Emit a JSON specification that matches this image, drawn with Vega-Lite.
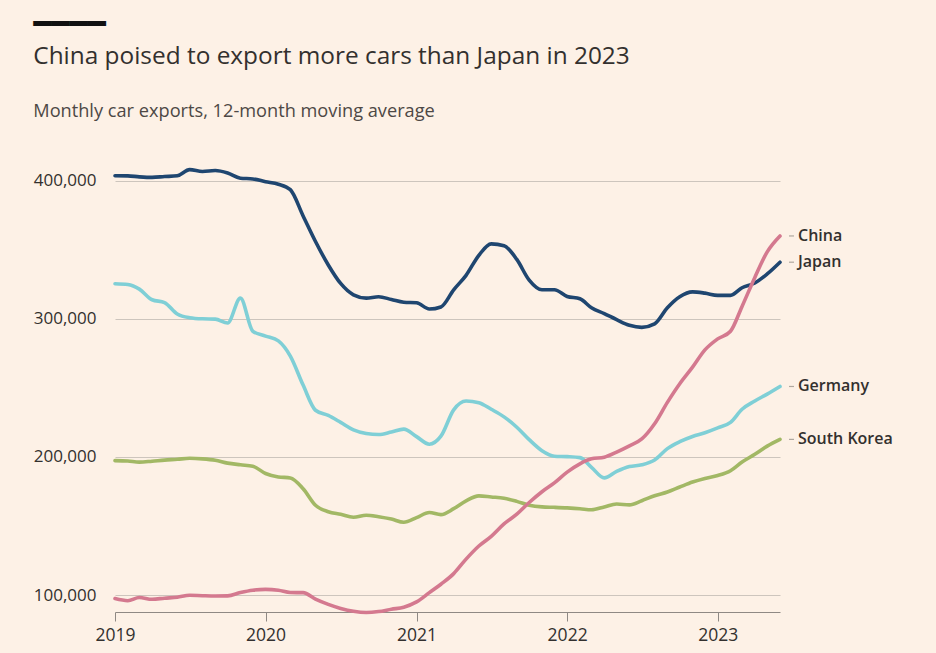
{
  "$schema": "https://vega.github.io/schema/vega-lite/v6.json",
  "background": "#fdf1e6",
  "padding": {"left": 33, "top": 10, "right": 44, "bottom": 10},
  "title": {"text": "━━━━", "anchor": "start", "frame": "bounds", "font": "DejaVu Sans", "fontSize": 30, "fontWeight": "normal", "color": "#111111", "offset": 4},
  "config": {
    "view": {"stroke": null},
    "font": "Open Sans",
    "axis": {"labelFont": "Open Sans", "labelColor": "#33302e", "labelFontSize": 17, "titleFont": "Open Sans"}
  },
  "datasets": {
    "exports": [
      {"country": "Japan", "date": "2019-01-01", "value": 403600},
      {"country": "Japan", "date": "2019-02-01", "value": 403500},
      {"country": "Japan", "date": "2019-03-01", "value": 402800},
      {"country": "Japan", "date": "2019-04-01", "value": 402400},
      {"country": "Japan", "date": "2019-05-01", "value": 403000},
      {"country": "Japan", "date": "2019-06-01", "value": 403600},
      {"country": "Japan", "date": "2019-07-01", "value": 408000},
      {"country": "Japan", "date": "2019-08-01", "value": 406700},
      {"country": "Japan", "date": "2019-09-01", "value": 407400},
      {"country": "Japan", "date": "2019-10-01", "value": 405600},
      {"country": "Japan", "date": "2019-11-01", "value": 401800},
      {"country": "Japan", "date": "2019-12-01", "value": 401300},
      {"country": "Japan", "date": "2020-01-01", "value": 399300},
      {"country": "Japan", "date": "2020-02-01", "value": 397500},
      {"country": "Japan", "date": "2020-03-01", "value": 393500},
      {"country": "Japan", "date": "2020-04-01", "value": 374500},
      {"country": "Japan", "date": "2020-05-01", "value": 356000},
      {"country": "Japan", "date": "2020-06-01", "value": 339000},
      {"country": "Japan", "date": "2020-07-01", "value": 325600},
      {"country": "Japan", "date": "2020-08-01", "value": 317400},
      {"country": "Japan", "date": "2020-09-01", "value": 315000},
      {"country": "Japan", "date": "2020-10-01", "value": 316000},
      {"country": "Japan", "date": "2020-11-01", "value": 314000},
      {"country": "Japan", "date": "2020-12-01", "value": 312000},
      {"country": "Japan", "date": "2021-01-01", "value": 311600},
      {"country": "Japan", "date": "2021-02-01", "value": 307100},
      {"country": "Japan", "date": "2021-03-01", "value": 308600},
      {"country": "Japan", "date": "2021-04-01", "value": 321000},
      {"country": "Japan", "date": "2021-05-01", "value": 331500},
      {"country": "Japan", "date": "2021-06-01", "value": 346000},
      {"country": "Japan", "date": "2021-07-01", "value": 354300},
      {"country": "Japan", "date": "2021-08-01", "value": 352900},
      {"country": "Japan", "date": "2021-09-01", "value": 343000},
      {"country": "Japan", "date": "2021-10-01", "value": 328000},
      {"country": "Japan", "date": "2021-11-01", "value": 321000},
      {"country": "Japan", "date": "2021-12-01", "value": 321000},
      {"country": "Japan", "date": "2022-01-01", "value": 316200},
      {"country": "Japan", "date": "2022-02-01", "value": 314500},
      {"country": "Japan", "date": "2022-03-01", "value": 308000},
      {"country": "Japan", "date": "2022-04-01", "value": 303800},
      {"country": "Japan", "date": "2022-05-01", "value": 299400},
      {"country": "Japan", "date": "2022-06-01", "value": 295300},
      {"country": "Japan", "date": "2022-07-01", "value": 293800},
      {"country": "Japan", "date": "2022-08-01", "value": 296300},
      {"country": "Japan", "date": "2022-09-01", "value": 308000},
      {"country": "Japan", "date": "2022-10-01", "value": 316000},
      {"country": "Japan", "date": "2022-11-01", "value": 319500},
      {"country": "Japan", "date": "2022-12-01", "value": 318600},
      {"country": "Japan", "date": "2023-01-01", "value": 317000},
      {"country": "Japan", "date": "2023-02-01", "value": 317000},
      {"country": "Japan", "date": "2023-03-01", "value": 322500},
      {"country": "Japan", "date": "2023-04-01", "value": 325900},
      {"country": "Japan", "date": "2023-05-01", "value": 332500},
      {"country": "Japan", "date": "2023-06-01", "value": 341000},
      {"country": "Germany", "date": "2019-01-01", "value": 325400},
      {"country": "Germany", "date": "2019-02-01", "value": 324800},
      {"country": "Germany", "date": "2019-03-01", "value": 321500},
      {"country": "Germany", "date": "2019-04-01", "value": 313800},
      {"country": "Germany", "date": "2019-05-01", "value": 311800},
      {"country": "Germany", "date": "2019-06-01", "value": 303500},
      {"country": "Germany", "date": "2019-07-01", "value": 300800},
      {"country": "Germany", "date": "2019-08-01", "value": 300000},
      {"country": "Germany", "date": "2019-09-01", "value": 299800},
      {"country": "Germany", "date": "2019-10-01", "value": 297000},
      {"country": "Germany", "date": "2019-11-01", "value": 315000},
      {"country": "Germany", "date": "2019-12-01", "value": 291000},
      {"country": "Germany", "date": "2020-01-01", "value": 287500},
      {"country": "Germany", "date": "2020-02-01", "value": 284000},
      {"country": "Germany", "date": "2020-03-01", "value": 273000},
      {"country": "Germany", "date": "2020-04-01", "value": 252000},
      {"country": "Germany", "date": "2020-05-01", "value": 233800},
      {"country": "Germany", "date": "2020-06-01", "value": 230000},
      {"country": "Germany", "date": "2020-07-01", "value": 225000},
      {"country": "Germany", "date": "2020-08-01", "value": 219600},
      {"country": "Germany", "date": "2020-09-01", "value": 217000},
      {"country": "Germany", "date": "2020-10-01", "value": 216200},
      {"country": "Germany", "date": "2020-11-01", "value": 218000},
      {"country": "Germany", "date": "2020-12-01", "value": 220100},
      {"country": "Germany", "date": "2021-01-01", "value": 214700},
      {"country": "Germany", "date": "2021-02-01", "value": 209200},
      {"country": "Germany", "date": "2021-03-01", "value": 215000},
      {"country": "Germany", "date": "2021-04-01", "value": 234100},
      {"country": "Germany", "date": "2021-05-01", "value": 240500},
      {"country": "Germany", "date": "2021-06-01", "value": 239300},
      {"country": "Germany", "date": "2021-07-01", "value": 234500},
      {"country": "Germany", "date": "2021-08-01", "value": 229000},
      {"country": "Germany", "date": "2021-09-01", "value": 221500},
      {"country": "Germany", "date": "2021-10-01", "value": 212500},
      {"country": "Germany", "date": "2021-11-01", "value": 204500},
      {"country": "Germany", "date": "2021-12-01", "value": 200500},
      {"country": "Germany", "date": "2022-01-01", "value": 200200},
      {"country": "Germany", "date": "2022-02-01", "value": 199500},
      {"country": "Germany", "date": "2022-03-01", "value": 192500},
      {"country": "Germany", "date": "2022-04-01", "value": 184800},
      {"country": "Germany", "date": "2022-05-01", "value": 189500},
      {"country": "Germany", "date": "2022-06-01", "value": 193000},
      {"country": "Germany", "date": "2022-07-01", "value": 194300},
      {"country": "Germany", "date": "2022-08-01", "value": 197800},
      {"country": "Germany", "date": "2022-09-01", "value": 206000},
      {"country": "Germany", "date": "2022-10-01", "value": 211000},
      {"country": "Germany", "date": "2022-11-01", "value": 214800},
      {"country": "Germany", "date": "2022-12-01", "value": 217500},
      {"country": "Germany", "date": "2023-01-01", "value": 221000},
      {"country": "Germany", "date": "2023-02-01", "value": 225000},
      {"country": "Germany", "date": "2023-03-01", "value": 234500},
      {"country": "Germany", "date": "2023-04-01", "value": 240500},
      {"country": "Germany", "date": "2023-05-01", "value": 245500},
      {"country": "Germany", "date": "2023-06-01", "value": 251000},
      {"country": "South Korea", "date": "2019-01-01", "value": 197300},
      {"country": "South Korea", "date": "2019-02-01", "value": 197000},
      {"country": "South Korea", "date": "2019-03-01", "value": 196200},
      {"country": "South Korea", "date": "2019-04-01", "value": 196900},
      {"country": "South Korea", "date": "2019-05-01", "value": 197700},
      {"country": "South Korea", "date": "2019-06-01", "value": 198300},
      {"country": "South Korea", "date": "2019-07-01", "value": 199000},
      {"country": "South Korea", "date": "2019-08-01", "value": 198600},
      {"country": "South Korea", "date": "2019-09-01", "value": 197600},
      {"country": "South Korea", "date": "2019-10-01", "value": 195500},
      {"country": "South Korea", "date": "2019-11-01", "value": 194300},
      {"country": "South Korea", "date": "2019-12-01", "value": 193300},
      {"country": "South Korea", "date": "2020-01-01", "value": 188000},
      {"country": "South Korea", "date": "2020-02-01", "value": 185500},
      {"country": "South Korea", "date": "2020-03-01", "value": 184800},
      {"country": "South Korea", "date": "2020-04-01", "value": 177000},
      {"country": "South Korea", "date": "2020-05-01", "value": 165000},
      {"country": "South Korea", "date": "2020-06-01", "value": 160300},
      {"country": "South Korea", "date": "2020-07-01", "value": 158400},
      {"country": "South Korea", "date": "2020-08-01", "value": 156300},
      {"country": "South Korea", "date": "2020-09-01", "value": 157800},
      {"country": "South Korea", "date": "2020-10-01", "value": 156700},
      {"country": "South Korea", "date": "2020-11-01", "value": 155000},
      {"country": "South Korea", "date": "2020-12-01", "value": 152700},
      {"country": "South Korea", "date": "2021-01-01", "value": 156000},
      {"country": "South Korea", "date": "2021-02-01", "value": 159700},
      {"country": "South Korea", "date": "2021-03-01", "value": 158200},
      {"country": "South Korea", "date": "2021-04-01", "value": 162500},
      {"country": "South Korea", "date": "2021-05-01", "value": 168200},
      {"country": "South Korea", "date": "2021-06-01", "value": 171800},
      {"country": "South Korea", "date": "2021-07-01", "value": 171000},
      {"country": "South Korea", "date": "2021-08-01", "value": 170100},
      {"country": "South Korea", "date": "2021-09-01", "value": 167800},
      {"country": "South Korea", "date": "2021-10-01", "value": 165000},
      {"country": "South Korea", "date": "2021-11-01", "value": 163800},
      {"country": "South Korea", "date": "2021-12-01", "value": 163500},
      {"country": "South Korea", "date": "2022-01-01", "value": 163100},
      {"country": "South Korea", "date": "2022-02-01", "value": 162500},
      {"country": "South Korea", "date": "2022-03-01", "value": 161700},
      {"country": "South Korea", "date": "2022-04-01", "value": 163800},
      {"country": "South Korea", "date": "2022-05-01", "value": 165900},
      {"country": "South Korea", "date": "2022-06-01", "value": 165300},
      {"country": "South Korea", "date": "2022-07-01", "value": 168300},
      {"country": "South Korea", "date": "2022-08-01", "value": 171900},
      {"country": "South Korea", "date": "2022-09-01", "value": 174600},
      {"country": "South Korea", "date": "2022-10-01", "value": 178200},
      {"country": "South Korea", "date": "2022-11-01", "value": 181800},
      {"country": "South Korea", "date": "2022-12-01", "value": 184400},
      {"country": "South Korea", "date": "2023-01-01", "value": 186500},
      {"country": "South Korea", "date": "2023-02-01", "value": 190000},
      {"country": "South Korea", "date": "2023-03-01", "value": 196300},
      {"country": "South Korea", "date": "2023-04-01", "value": 201900},
      {"country": "South Korea", "date": "2023-05-01", "value": 207800},
      {"country": "South Korea", "date": "2023-06-01", "value": 212700},
      {"country": "China", "date": "2019-01-01", "value": 97400},
      {"country": "China", "date": "2019-02-01", "value": 95900},
      {"country": "China", "date": "2019-03-01", "value": 98200},
      {"country": "China", "date": "2019-04-01", "value": 96900},
      {"country": "China", "date": "2019-05-01", "value": 97700},
      {"country": "China", "date": "2019-06-01", "value": 98400},
      {"country": "China", "date": "2019-07-01", "value": 99800},
      {"country": "China", "date": "2019-08-01", "value": 99500},
      {"country": "China", "date": "2019-09-01", "value": 99300},
      {"country": "China", "date": "2019-10-01", "value": 99400},
      {"country": "China", "date": "2019-11-01", "value": 101800},
      {"country": "China", "date": "2019-12-01", "value": 103500},
      {"country": "China", "date": "2020-01-01", "value": 104100},
      {"country": "China", "date": "2020-02-01", "value": 103500},
      {"country": "China", "date": "2020-03-01", "value": 101800},
      {"country": "China", "date": "2020-04-01", "value": 101700},
      {"country": "China", "date": "2020-05-01", "value": 97000},
      {"country": "China", "date": "2020-06-01", "value": 93200},
      {"country": "China", "date": "2020-07-01", "value": 90300},
      {"country": "China", "date": "2020-08-01", "value": 88200},
      {"country": "China", "date": "2020-09-01", "value": 87300},
      {"country": "China", "date": "2020-10-01", "value": 88000},
      {"country": "China", "date": "2020-11-01", "value": 89700},
      {"country": "China", "date": "2020-12-01", "value": 91200},
      {"country": "China", "date": "2021-01-01", "value": 95000},
      {"country": "China", "date": "2021-02-01", "value": 101700},
      {"country": "China", "date": "2021-03-01", "value": 107800},
      {"country": "China", "date": "2021-04-01", "value": 115500},
      {"country": "China", "date": "2021-05-01", "value": 126000},
      {"country": "China", "date": "2021-06-01", "value": 135500},
      {"country": "China", "date": "2021-07-01", "value": 142500},
      {"country": "China", "date": "2021-08-01", "value": 151500},
      {"country": "China", "date": "2021-09-01", "value": 158500},
      {"country": "China", "date": "2021-10-01", "value": 167000},
      {"country": "China", "date": "2021-11-01", "value": 174800},
      {"country": "China", "date": "2021-12-01", "value": 181200},
      {"country": "China", "date": "2022-01-01", "value": 189000},
      {"country": "China", "date": "2022-02-01", "value": 195000},
      {"country": "China", "date": "2022-03-01", "value": 198600},
      {"country": "China", "date": "2022-04-01", "value": 199800},
      {"country": "China", "date": "2022-05-01", "value": 203500},
      {"country": "China", "date": "2022-06-01", "value": 208000},
      {"country": "China", "date": "2022-07-01", "value": 213000},
      {"country": "China", "date": "2022-08-01", "value": 224000},
      {"country": "China", "date": "2022-09-01", "value": 239500},
      {"country": "China", "date": "2022-10-01", "value": 253000},
      {"country": "China", "date": "2022-11-01", "value": 265000},
      {"country": "China", "date": "2022-12-01", "value": 277500},
      {"country": "China", "date": "2023-01-01", "value": 285500},
      {"country": "China", "date": "2023-02-01", "value": 291000},
      {"country": "China", "date": "2023-03-01", "value": 309000},
      {"country": "China", "date": "2023-04-01", "value": 330000},
      {"country": "China", "date": "2023-05-01", "value": 348500},
      {"country": "China", "date": "2023-06-01", "value": 360000}
    ]
  },
  "vconcat": [
    {
      "width": 665,
      "height": 452,
      "title": {
        "text": "China poised to export more cars than Japan in 2023",
        "subtitle": "Monthly car exports, 12-month moving average",
        "anchor": "start",
        "frame": "bounds",
        "font": "Open Sans",
        "fontSize": 24.4,
        "fontWeight": "normal",
        "color": "#33302e",
        "subtitleFont": "Open Sans",
        "subtitleFontSize": 18.2,
        "subtitleColor": "#4d4845",
        "subtitlePadding": 33,
        "offset": 39
      },
      "data": {"name": "exports"},
      "encoding": {
        "x": {
          "field": "date",
          "type": "temporal",
          "scale": {"type": "utc", "domain": [{"year": 2019, "month": 1, "date": 1, "utc": true}, {"year": 2023, "month": 6, "date": 1, "utc": true}]},
          "axis": {
            "title": null,
            "values": [{"year": 2019, "month": 1, "date": 1, "utc": true}, {"year": 2020, "month": 1, "date": 1, "utc": true}, {"year": 2021, "month": 1, "date": 1, "utc": true}, {"year": 2022, "month": 1, "date": 1, "utc": true}, {"year": 2023, "month": 1, "date": 1, "utc": true}],
            "format": "%Y",
            "grid": false,
            "domainColor": "#8f8984",
            "domainWidth": 1.2,
            "tickColor": "#8f8984",
            "tickSize": 9,
            "labelPadding": 5,
            "labelFontSize": 17.5,
            "labelFlush": false
          }
        },
        "y": {
          "field": "value",
          "type": "quantitative",
          "scale": {"domain": [87700, 415000], "nice": false, "zero": false},
          "axis": {
            "title": null,
            "values": [100000, 200000, 300000, 400000],
            "format": ",.0f",
            "domain": false,
            "ticks": false,
            "tickSize": 0,
            "labelPadding": 19,
            "gridColor": "#cdc5bd",
            "gridWidth": 1,
            "labelFontSize": 17
          }
        }
      },
      "layer": [
        {
          "mark": {"type": "line", "strokeWidth": 3.6, "interpolate": "monotone", "strokeCap": "round", "strokeJoin": "round"},
          "encoding": {
            "color": {
              "field": "country",
              "type": "nominal",
              "scale": {"domain": ["Germany", "South Korea", "China", "Japan"], "range": ["#7fcfd6", "#a2b865", "#d4798f", "#1f4670"]},
              "legend": null
            }
          }
        },
        {
          "transform": [{"filter": "utcyear(datum.date) == 2023 && utcmonth(datum.date) == 5"}],
          "mark": {"type": "rule", "xOffset": 9, "x2Offset": 14, "color": "#b0a89f", "strokeWidth": 1.2},
          "encoding": {"x2": {"field": "date"}}
        },
        {
          "transform": [{"filter": "utcyear(datum.date) == 2023 && utcmonth(datum.date) == 5"}],
          "mark": {"type": "text", "align": "left", "baseline": "middle", "dx": 18, "font": "Open Sans", "fontSize": 16, "fontWeight": 600, "color": "#33302e"},
          "encoding": {"text": {"field": "country"}}
        }
      ]
    }
  ]
}
